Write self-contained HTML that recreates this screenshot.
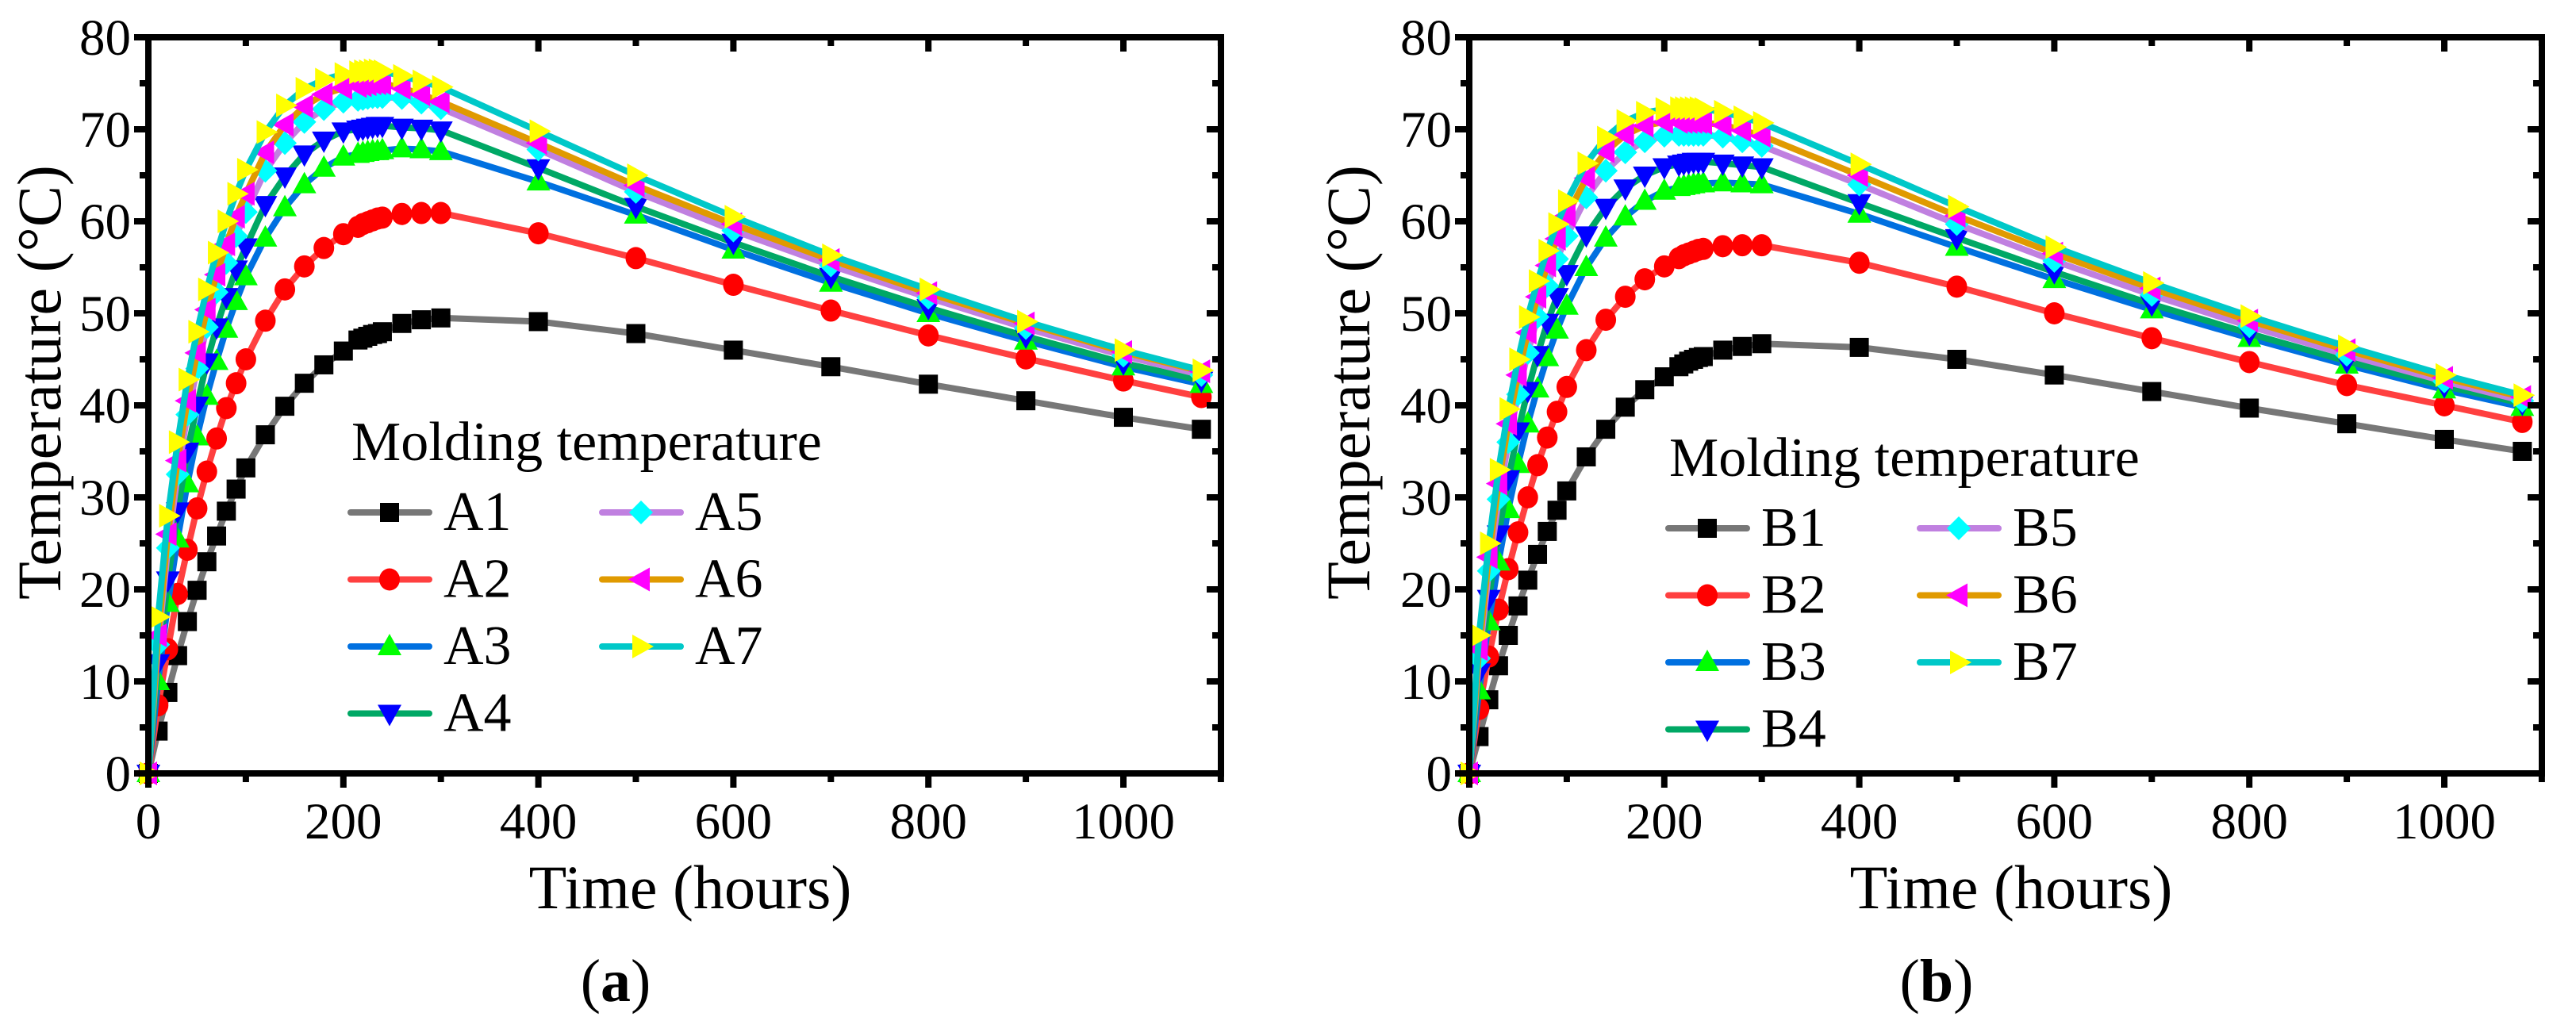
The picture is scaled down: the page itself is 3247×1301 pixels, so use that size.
<!DOCTYPE html>
<html><head><meta charset="utf-8">
<style>
html,body{margin:0;padding:0;background:#fff;}
svg, svg text{font-family:"Liberation Serif","DejaVu Serif",serif;}
</style></head>
<body>
<svg id="chart" width="3247" height="1296" viewBox="0 0 3247 1296" xmlns="http://www.w3.org/2000/svg" font-family="Liberation Serif, DejaVu Serif, serif">
<rect width="3247" height="1296" fill="#fff"/>
</svg>
<script>
const times = [0,10,20,30,40,50,60,70,80,90,100,120,140,160,180,200,215,220,225,230,235,240,260,280,300,400,500,600,700,800,900,1000,1080];
const xTicks = [0,200,400,600,800,1000];
const yTicks = [0,10,20,30,40,50,60,70,80];
const seriesNamesA = ["A1","A2","A3","A4","A5","A6","A7"];
const seriesNamesB = ["B1","B2","B3","B4","B5","B6","B7"];
const A1 = [0,4.6,8.8,12.8,16.5,19.9,23,25.8,28.5,30.9,33.2,36.8,39.9,42.4,44.4,45.9,47.1,47.3,47.5,47.7,47.8,48,48.9,49.3,49.5,49.1,47.8,46,44.2,42.3,40.5,38.7,37.4];
const A2 = [0,7.4,13.5,19.5,24.3,28.8,32.8,36.4,39.7,42.4,45,49.2,52.6,55.1,57.1,58.6,59.4,59.7,59.9,60.1,60.3,60.4,60.8,60.9,60.9,58.7,56,53.1,50.3,47.6,45.1,42.7,40.9];
const A3 = [0,10,18.5,25.5,31.5,36.6,41,44.8,48.3,51.3,54,58.2,61.5,64,65.8,67,67.3,67.4,67.5,67.6,67.6,67.7,67.9,67.8,67.6,64.3,60.7,56.9,53.3,50,47,44.2,42.3];
const A4 = [0,12,21,28.5,35,40,44.7,48.5,51.8,54.8,57.2,61.8,64.9,67.3,68.8,69.8,70,70.1,70.2,70.3,70.4,70.4,70.2,70.1,69.9,65.8,61.6,57.7,54,50.6,47.5,44.6,42.7];
const A5 = [0,14,24.5,32.5,39,44,48.5,52.3,55.5,58.4,61,65.5,68.5,70.8,72.2,73,73.2,73.3,73.4,73.5,73.5,73.5,73.4,72.9,72.3,67.8,63.2,59,55.2,51.7,48.4,45.4,43.3];
const A6 = [0,15,26,34,40.5,45.7,50.4,54.2,57.5,60.5,63,67.5,70.5,72.5,73.8,74.5,74.7,74.8,74.9,75,75,75,74.5,73.8,73,68.5,63.9,59.7,55.8,52.2,48.9,45.8,43.7];
const A7 = [0,17,28,36,42.8,48,52.6,56.6,60,63,65.6,69.7,72.6,74.4,75.4,76,76.2,76.3,76.3,76.4,76.4,76.3,75.8,75.2,74.6,69.8,65,60.5,56.3,52.6,49.1,46,43.8];
const B1 = [0,4,8,11.7,15,18.2,21,23.8,26.3,28.6,30.7,34.4,37.4,39.8,41.7,43.1,44.2,44.5,44.8,45,45.2,45.3,46,46.4,46.7,46.3,45,43.3,41.5,39.7,38,36.3,35];
const B2 = [0,7,12.7,17.8,22.2,26.2,30,33.5,36.5,39.3,42,46,49.3,51.8,53.7,55.1,56,56.3,56.5,56.7,56.9,57,57.3,57.4,57.4,55.5,52.9,50,47.3,44.7,42.2,40,38.2];
const B3 = [0,9,16.5,23,28.7,33.6,38,41.8,45.2,48.2,50.8,55,58.2,60.5,62.2,63.3,63.7,63.8,63.9,64,64.1,64.1,64.2,64.1,64,60.8,57.2,53.7,50.4,47.3,44.4,41.7,39.8];
const B4 = [0,11,19,26,32,37.2,41.6,45.5,49,51.8,54.3,58.5,61.5,63.6,65,65.9,66.2,66.3,66.4,66.5,66.5,66.5,66.3,66.1,65.9,62,58.2,54.5,51,47.8,44.8,42.1,40.2];
const B5 = [0,12.5,22,29.8,36,41.2,45.7,49.6,53,55.9,58.4,62.6,65.5,67.5,68.7,69.3,69.4,69.4,69.4,69.4,69.4,69.4,69.2,68.7,68.2,64,59.7,55.7,52,48.6,45.5,42.6,40.5];
const B6 = [0,13.5,23.5,31.5,38,43.3,47.9,51.8,55.2,58.1,60.6,64.7,67.6,69.4,70.4,70.8,70.8,70.8,70.8,70.8,70.8,70.7,70.5,69.9,69.3,65,60.6,56.5,52.7,49.2,46,43,40.9];
const B7 = [0,15,25,33,39.6,45,49.6,53.5,56.8,59.7,62.2,66.3,69.1,70.9,71.8,72.2,72.3,72.3,72.3,72.3,72.3,72.2,71.9,71.3,70.7,66.2,61.6,57.2,53.3,49.7,46.4,43.3,41.1];

const lineColors = ["#777777","#ff4040","#0070e0","#00a865","#c080e0","#e09a00","#00c8c8"];
const markerColors = ["#000000","#ff0000","#00ff00","#0000ff","#00ffff","#ff00ff","#ffff00"];
const markerShapes = ["square","circle","up","down","diamond","left","right"];
const FONT = "'Liberation Serif', 'DejaVu Serif', serif";

const NS = "http://www.w3.org/2000/svg";
const svg = document.getElementById("chart");
function mk(tag, attrs, parent){
  const e = document.createElementNS(NS, tag);
  for (const k in attrs) e.setAttribute(k, attrs[k]);
  if (tag === "text") e.setAttribute("font-family", FONT);
  (parent||svg).appendChild(e);
  return e;
}
function marker(g, shape, cx, cy, color){
  const s = 13;
  let e;
  if (shape==="square") e = mk("rect",{x:cx-12,y:cy-12,width:24,height:24,fill:color},g);
  else if (shape==="circle") e = mk("ellipse",{cx:cx,cy:cy,rx:13,ry:14,fill:color},g);
  else {
    let p;
    if (shape==="up") p=[[cx,cy-16],[cx+15,cy+11],[cx-15,cy+11]];
    else if (shape==="down") p=[[cx,cy+16],[cx+15,cy-11],[cx-15,cy-11]];
    else if (shape==="left") p=[[cx-16,cy],[cx+11,cy-15],[cx+11,cy+15]];
    else if (shape==="right") p=[[cx+16,cy],[cx-11,cy-15],[cx-11,cy+15]];
    else p=[[cx,cy-s-2],[cx+s+2,cy],[cx,cy+s+2],[cx-s-2,cy]];
    e = mk("polygon",{points:p.map(q=>q.join(",")).join(" "),fill:color},g);
  }
  return e;
}

function panel(opts){
  const x0 = opts.x0, xr = x0 + 1352, yTop = 47, yBot = 975;
  const sx = t => x0 + t*1.229;
  const sy = v => yBot - v*11.6;
  const g = mk("g",{});
  
  
  opts.series.forEach((vals,i)=>{
    const sg = mk("g",{},g);
    
    
    const d = times.map((t,j)=>(j?"L":"M")+sx(t).toFixed(1)+","+sy(vals[j]).toFixed(1)).join(" ");
    const pl = mk("path",{d:d,fill:"none",stroke:lineColors[i],"stroke-width":8,"stroke-linejoin":"round"},sg);
    
    
    times.forEach((t,j)=>{
      const m = marker(sg, markerShapes[i], sx(t), sy(vals[j]), markerColors[i]);
      
      
    });
  });
  const fr = mk("rect",{x:x0,y:yTop,width:xr-x0,height:yBot-yTop,fill:"none",stroke:"#000","stroke-width":8},g);
  
  
  for (let t=0;t<=1100;t+=100){
    const major = t%200===0, L = major?14:7, X = sx(t);
    mk("line",{x1:X,y1:yBot,x2:X,y2:yBot+4+L,stroke:"#000","stroke-width":8},g);
    mk("line",{x1:X,y1:yTop,x2:X,y2:yTop+4+L,stroke:"#000","stroke-width":8},g);
  }
  xTicks.forEach(t=>{
    const tx = mk("text",{x:sx(t),y:1057,"font-size":65,"text-anchor":"middle"},g);
    tx.textContent = t;
    
    
  });
  for (let v=0;v<=80;v+=5){
    const major = v%10===0, L = major?14:7, Y = sy(v);
    mk("line",{x1:x0,y1:Y,x2:x0-4-L,y2:Y,stroke:"#000","stroke-width":8},g);
    mk("line",{x1:xr,y1:Y,x2:xr-4-L,y2:Y,stroke:"#000","stroke-width":8},g);
  }
  yTicks.forEach(v=>{
    const tx = mk("text",{x:x0-22,y:sy(v)+22,"font-size":65,"text-anchor":"end"},g);
    tx.textContent = v;
    
    
  });
  const yt = mk("text",{x:0,y:0,"font-size":78,"text-anchor":"middle",transform:"translate("+(opts.yTitleX+26)+",482) rotate(-90)"},g);
  yt.textContent = "Temperature (°C)";
  
  
  const xt = mk("text",{x:x0+683,y:1145,"font-size":78,"text-anchor":"middle"},g);
  xt.textContent = "Time (hours)";
  
  
  const cap = mk("text",{x:x0+589,y:1262,"font-size":76,"text-anchor":"middle"},g);
  cap.innerHTML = '(<tspan font-weight="bold">'+opts.letter+'</tspan>)';
  
  
  const lg = mk("g",{},g);
  
  
  const dy = opts.legendDy, lx = x0 + 251 + opts.legendDx;
  const lt = mk("text",{x:x0+256+opts.legendDx,y:580+dy,"font-size":70},lg);
  lt.textContent = "Molding temperature";
  
  
  opts.labels.forEach((lab,i)=>{
    const col = i<4?0:1, row = i<4?i:i-4;
    const bx = lx + col*317, by = 646 + dy + row*84.5;
    const eg = mk("g",{},lg);
    
    
    mk("line",{x1:bx+4,y1:by,x2:bx+103,y2:by,stroke:lineColors[i],"stroke-width":8,"stroke-linecap":"round"},eg);
    marker(eg, markerShapes[i], bx+53, by, markerColors[i]);
    const tt = mk("text",{x:bx+121,y:by+22,"font-size":70},eg);
    tt.textContent = lab;
  });
}

panel({name:"panel-a",x0:187,series:[A1,A2,A3,A4,A5,A6,A7],labels:seriesNamesA,letter:"a",yTitleX:50,legendDx:0,legendDy:0});
panel({name:"panel-b",x0:1852,series:[B1,B2,B3,B4,B5,B6,B7],labels:seriesNamesB,letter:"b",yTitleX:1700,legendDx:-4,legendDy:20});
</script>
</body></html>
